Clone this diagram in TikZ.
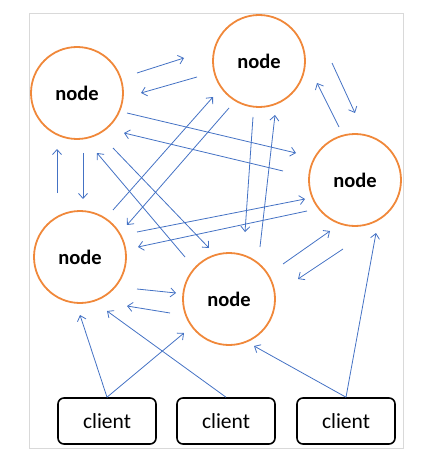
\documentclass[tikz,border=0pt]{standalone}
\usepackage{fontspec}
\setmainfont{Carlito}
\usetikzlibrary{arrows.meta}
\definecolor{nodeorange}{HTML}{F0883A}
\definecolor{linkblue}{HTML}{4472C4}
\begin{document}
\begin{tikzpicture}[x=1pt,y=-1pt,
    peer/.style={circle,draw=nodeorange,line width=1.8pt,minimum size=92pt,inner sep=0pt,
                 font=\fontsize{20.5}{24}\selectfont\bfseries},
    client/.style={rectangle,draw=black,line width=1.6pt,rounded corners=6pt,
                   minimum width=98pt,minimum height=46pt,inner sep=0pt,
                   font=\fontsize{21.5}{24}\selectfont},
    link/.style={draw=linkblue,line width=0.8pt,-{Straight Barb[length=5pt,width=9pt]}}]
    \useasboundingbox (0,0) rectangle (424,457);
    \draw[gray!30] (29,13) rectangle (403,448);

    \node[peer] (n1) at (77,93)   {node};
    \node[peer] (n2) at (259,61)  {node};
    \node[peer] (n3) at (355,180) {node};
    \node[peer] (n4) at (80,257)  {node};
    \node[peer] (n5) at (229,299) {node};

    \node[client] (c1) at (107,421) {client};
    \node[client] (c2) at (226,421) {client};
    \node[client] (c3) at (346,421) {client};

    % node <-> node
    \draw[link] ([shift={(60,-20)}]n1.center) -- ([shift={(-75,-3)}]n2.center);
    \draw[link] ([shift={(-62,16)}]n2.center) -- ([shift={(64,0)}]n1.center);
    \draw[link] ([shift={(73,2)}]n2.center) -- ([shift={(0,-67)}]n3.center);
    \draw[link] ([shift={(-16,-53)}]n3.center) -- ([shift={(58,22)}]n2.center);
    \draw[link] ([shift={(50,20)}]n1.center) -- ([shift={(-59,-27)}]n3.center);
    \draw[link] ([shift={(-72,-9)}]n3.center) -- ([shift={(47,40)}]n1.center);
    \draw[link] ([shift={(-23,-64)}]n4.center) -- ([shift={(-20,56)}]n1.center);
    \draw[link] ([shift={(6,60)}]n1.center) -- ([shift={(3,-58)}]n4.center);
    \draw[link] ([shift={(33,-47)}]n4.center) -- ([shift={(-46,36)}]n2.center);
    \draw[link] ([shift={(-30,47)}]n2.center) -- ([shift={(47,-32)}]n4.center);
    \draw[link] ([shift={(-44,-42)}]n5.center) -- ([shift={(20,60)}]n1.center);
    \draw[link] ([shift={(36,55)}]n1.center) -- ([shift={(-20,-51)}]n5.center);
    \draw[link] ([shift={(-6,56)}]n2.center) -- ([shift={(16,-67)}]n5.center);
    \draw[link] ([shift={(31,-52)}]n5.center) -- ([shift={(16,54)}]n2.center);
    \draw[link] ([shift={(57,-25)}]n4.center) -- ([shift={(-50,19)}]n3.center);
    \draw[link] ([shift={(-48,31)}]n3.center) -- ([shift={(58,-10)}]n4.center);
    \draw[link] ([shift={(57,32)}]n4.center) -- ([shift={(-53,-6)}]n5.center);
    \draw[link] ([shift={(-59,14)}]n5.center) -- ([shift={(47,49)}]n4.center);
    \draw[link] ([shift={(54,-35)}]n5.center) -- ([shift={(-25,51)}]n3.center);
    \draw[link] ([shift={(-12,69)}]n3.center) -- ([shift={(69,-20)}]n5.center);

    % client -> node
    \draw[link] (c1.north) -- ([shift={(0,58)}]n4.center);
    \draw[link] (c1.north) -- ([shift={(-45,34)}]n5.center);
    \draw[link] (c2.north) -- ([shift={(27,54)}]n4.center);
    \draw[link] (c3.north) -- ([shift={(25,47)}]n5.center);
    \draw[link] (c3.north) -- ([shift={(21,53)}]n3.center);
\end{tikzpicture}
\end{document}
